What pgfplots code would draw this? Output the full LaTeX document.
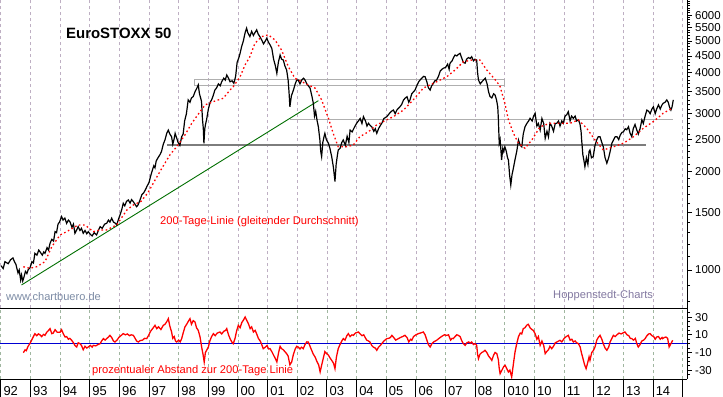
\documentclass[border=0pt]{standalone}
\usepackage{pgfplots}
\pgfplotsset{compat=1.18}
\usepackage{fontspec}
\setmainfont{Liberation Sans}
\definecolor{gridmain}{RGB}{190,175,195}
\definecolor{gridlow}{RGB}{160,182,160}
\definecolor{wmark}{RGB}{125,140,165}
\definecolor{hmark}{RGB}{130,120,160}
\definecolor{hline}{RGB}{125,125,125}
\definecolor{boxline}{RGB}{175,175,175}
\definecolor{trend}{RGB}{0,110,0}
\definecolor{chartred}{RGB}{255,0,0}
\definecolor{zeroblue}{RGB}{0,0,210}
\begin{document}
\begin{tikzpicture}[x=1bp,y=1bp]
\path[use as bounding box] (0bp,0bp) rectangle (723bp,397bp);
% ---------------- main panel ----------------
\begin{axis}[
  at={(0bp,88.7bp)}, anchor=south west, scale only axis,
  width=687bp, height=308.3bp,
  xmin=1991.973, xmax=2015.143,
  ymode=log, ymin=764, ymax=6671,
  axis x line*=bottom, axis y line*=right,
  axis line style={-, black, line width=1bp},
  xtick={1992,...,2015}, xticklabels={}, xtick style={draw=none},
  xmajorgrids, grid style={gridmain, dashed, line width=0.7bp},
  ytick={1000,1500,2000,2500,3000,3500,4000,4500,5000,5500,6000},
  yticklabels={1000,1500,2000,2500,3000,3500,4000,4500,5000,5500,6000},
  minor ytick={800,900,1100,1200,1300,1400,1600,1700,1800,1900,2100,2200,2300,2400,2600,2700,2800,2900,3100,3200,3300,3400,3600,3700,3800,3900,4100,4200,4300,4400,4600,4700,4800,4900,5100,5200,5300,5400,5600,5700,5800,5900,6100,6200,6300,6400,6500,6600},
  tick align=outside, major tick length=5bp, minor tick length=3bp,
  ytick style={black, line width=0.8bp},
  yticklabel style={font=\fontsize{11.5}{12}\selectfont, anchor=west, inner sep=0pt, xshift=3bp},
]
% support / resistance lines
\addplot[hline, line width=2.6bp] coordinates {(1997.61,2408) (2013.75,2408)};
\addplot[boxline, line width=0.8bp] coordinates {(1998.53,3672) (2009.00,3672) (2009.00,3820) (1998.53,3820) (1998.53,3672)};
\addplot[boxline, line width=0.8bp] coordinates {(2001.76,2884) (2014.67,2884)};
% trend line
\addplot[trend, line width=0.9bp] coordinates {(1992.70,900) (2002.71,3287)};
% index
\addplot[black, line width=1.2bp] coordinates {
(1992.01,1030) (1992.08,1010) (1992.14,1060) (1992.25,1045) (1992.33,1075) (1992.41,1088) (1992.46,1060) (1992.51,1040) (1992.58,979) (1992.62,1000) (1992.67,932) (1992.70,965) (1992.74,925) (1992.78,950) (1992.83,990) (1992.88,975) (1992.93,1005) (1992.98,1012)
(1993.05,1060) (1993.10,1050) (1993.15,1124) (1993.22,1110) (1993.28,1150) (1993.32,1137) (1993.40,1110) (1993.45,1135) (1993.49,1124) (1993.56,1170) (1993.61,1150) (1993.66,1206) (1993.72,1240) (1993.78,1225) (1993.83,1309) (1993.88,1300) (1993.93,1380) (1993.98,1400)
(1994.05,1455) (1994.10,1420) (1994.16,1440) (1994.22,1388) (1994.28,1420) (1994.33,1405) (1994.40,1350) (1994.45,1380) (1994.50,1294) (1994.55,1320) (1994.61,1356) (1994.67,1320) (1994.72,1340) (1994.78,1294) (1994.84,1320) (1994.90,1290) (1994.95,1309)
(1995.02,1285) (1995.08,1270) (1995.15,1300) (1995.23,1279) (1995.29,1320) (1995.35,1356) (1995.42,1340) (1995.50,1380) (1995.57,1388) (1995.63,1420) (1995.68,1400) (1995.74,1439) (1995.80,1400) (1995.86,1390) (1995.91,1372) (1995.96,1421)
(1996.03,1480) (1996.08,1530) (1996.13,1598) (1996.18,1570) (1996.24,1620) (1996.30,1636) (1996.36,1600) (1996.41,1640) (1996.46,1620) (1996.52,1590) (1996.58,1560) (1996.63,1580) (1996.70,1640) (1996.76,1700) (1996.82,1720) (1996.88,1760) (1996.93,1800)
(1997.00,1850) (1997.05,1930) (1997.10,2000) (1997.16,2080) (1997.20,2050) (1997.24,2150) (1997.30,2200) (1997.37,2250) (1997.42,2300) (1997.48,2420) (1997.54,2500) (1997.60,2620) (1997.65,2673) (1997.70,2600) (1997.76,2552) (1997.80,2420) (1997.84,2500) (1997.88,2612) (1997.93,2530) (1997.98,2450)
(1998.04,2400) (1998.10,2552) (1998.15,2600) (1998.20,2850) (1998.26,3000) (1998.32,3305) (1998.38,3250) (1998.43,3350) (1998.49,3384) (1998.55,3500) (1998.62,3600) (1998.66,3672) (1998.70,3450) (1998.74,3350) (1998.77,3266) (1998.80,2900) (1998.83,2700) (1998.85,2437) (1998.88,2700) (1998.91,2800) (1998.94,2872)
(1999.00,3100) (1999.06,3250) (1999.11,3305) (1999.16,3400) (1999.22,3542) (1999.28,3600) (1999.34,3700) (1999.40,3650) (1999.45,3756) (1999.52,3850) (1999.57,3800) (1999.62,3937) (1999.68,3850) (1999.73,3756) (1999.80,3780) (1999.86,3714) (1999.92,3900) (1999.97,4300)
(2000.03,4450) (2000.07,4585) (2000.12,4800) (2000.18,5000) (2000.24,5300) (2000.29,5472) (2000.33,5300) (2000.40,5157) (2000.46,5350) (2000.52,5200) (2000.57,5300) (2000.63,5409) (2000.68,5250) (2000.74,5150) (2000.80,5035) (2000.86,4900) (2000.92,5000) (2000.97,5099)
(2001.03,4950) (2001.09,4850) (2001.14,4749) (2001.20,4400) (2001.26,4200) (2001.31,3985) (2001.36,4300) (2001.42,4531) (2001.47,4400) (2001.53,4372) (2001.58,4200) (2001.64,4077) (2001.69,3800) (2001.72,3500) (2001.75,3149) (2001.80,3400) (2001.87,3542) (2001.93,3700) (2001.98,3800)
(2002.03,3801) (2002.09,3700) (2002.15,3800) (2002.21,3850) (2002.26,3801) (2002.32,3700) (2002.37,3650) (2002.43,3591) (2002.49,3400) (2002.54,3228) (2002.58,2950) (2002.62,3050) (2002.67,2850) (2002.71,2736) (2002.76,2500) (2002.79,2300) (2002.82,2218) (2002.86,2450) (2002.90,2550) (2002.93,2612) (2002.98,2500)
(2003.05,2436) (2003.10,2350) (2003.16,2218) (2003.22,2050) (2003.27,1862) (2003.31,2100) (2003.34,2200) (2003.38,2324) (2003.44,2350) (2003.50,2450) (2003.55,2494) (2003.62,2400) (2003.68,2560) (2003.74,2450) (2003.78,2673) (2003.85,2640) (2003.92,2720)
(2004.00,2804) (2004.06,2850) (2004.12,2900) (2004.18,2800) (2004.23,2938) (2004.30,2850) (2004.35,2750) (2004.40,2804) (2004.46,2760) (2004.51,2736) (2004.58,2650) (2004.63,2700) (2004.68,2612) (2004.74,2700) (2004.80,2760) (2004.85,2804) (2004.92,2900)
(2005.02,2938) (2005.10,3000) (2005.17,3050) (2005.24,3077) (2005.30,3000) (2005.36,3080) (2005.46,3149) (2005.52,3200) (2005.58,3300) (2005.63,3342) (2005.70,3380) (2005.76,3250) (2005.80,3305) (2005.86,3450) (2005.92,3500) (2005.97,3542)
(2006.03,3650) (2006.09,3750) (2006.14,3801) (2006.20,3850) (2006.26,3900) (2006.31,3890) (2006.37,3750) (2006.42,3600) (2006.48,3542) (2006.53,3650) (2006.58,3700) (2006.64,3780) (2006.70,3801) (2006.76,3900) (2006.82,4050) (2006.88,4100) (2006.93,4131)
(2007.00,4150) (2007.07,4250) (2007.12,4100) (2007.15,4278) (2007.22,4350) (2007.27,4450) (2007.32,4531) (2007.38,4500) (2007.43,4550) (2007.49,4585) (2007.54,4450) (2007.60,4300) (2007.66,4278) (2007.71,4400) (2007.77,4450) (2007.83,4420) (2007.88,4477) (2007.94,4350) (2007.99,4400)
(2008.05,4372) (2008.08,4000) (2008.11,3801) (2008.17,3700) (2008.22,3750) (2008.28,3801) (2008.34,3850) (2008.40,3700) (2008.45,3500) (2008.50,3384) (2008.56,3350) (2008.62,3450) (2008.67,3421) (2008.72,3300) (2008.76,3149) (2008.78,2900) (2008.81,2437) (2008.84,2500) (2008.87,2300) (2008.89,2167) (2008.93,2350) (2008.96,2300)
(2009.00,2377) (2009.05,2300) (2009.09,2200) (2009.12,2167) (2009.16,1950) (2009.20,1817) (2009.24,1950) (2009.29,2050) (2009.34,2167) (2009.40,2300) (2009.46,2494) (2009.52,2400) (2009.57,2377) (2009.62,2600) (2009.68,2736) (2009.74,2800) (2009.80,2850) (2009.85,2904) (2009.92,2850) (2009.97,2950)
(2010.02,3009) (2010.08,2750) (2010.13,2800) (2010.19,2673) (2010.25,2900) (2010.31,2800) (2010.36,2522) (2010.42,2650) (2010.47,2550) (2010.52,2804) (2010.58,2750) (2010.64,2650) (2010.70,2800) (2010.75,2804) (2010.81,2850) (2010.86,2750) (2010.92,2850) (2010.97,2804)
(2011.03,2950) (2011.09,2980) (2011.14,3042) (2011.20,2850) (2011.25,2950) (2011.31,2904) (2011.37,2950) (2011.42,2850) (2011.48,2872) (2011.53,2800) (2011.57,2650) (2011.59,2494) (2011.63,2250) (2011.67,2150) (2011.70,2066) (2011.75,2200) (2011.80,2100) (2011.84,2300) (2011.87,2324) (2011.92,2200) (2011.98,2218)
(2012.04,2400) (2012.10,2500) (2012.15,2552) (2012.21,2550) (2012.27,2450) (2012.32,2377) (2012.38,2200) (2012.44,2118) (2012.50,2200) (2012.55,2300) (2012.61,2437) (2012.67,2500) (2012.72,2550) (2012.78,2552) (2012.84,2500) (2012.89,2580) (2012.95,2630)
(2013.00,2642) (2013.06,2700) (2013.11,2680) (2013.17,2736) (2013.22,2620) (2013.28,2552) (2013.33,2700) (2013.39,2780) (2013.45,2673) (2013.50,2600) (2013.56,2700) (2013.62,2872) (2013.67,2800) (2013.73,2950) (2013.79,3077) (2013.85,3050) (2013.90,3000) (2013.96,3100)
(2014.01,3149) (2014.07,3000) (2014.12,3100) (2014.18,3191) (2014.24,3100) (2014.29,3180) (2014.34,3228) (2014.40,3250) (2014.46,3305) (2014.51,3250) (2014.55,3150) (2014.60,3077) (2014.64,3150) (2014.68,3305)
};
% 200-day moving average
\addplot[chartred, line width=1.3bp, dash pattern=on 1.6bp off 2.6bp] coordinates {
(1992.76,1023) (1992.98,1012) (1993.21,1023) (1993.49,1060) (1993.72,1178) (1994.00,1279) (1994.22,1309) (1994.61,1372) (1994.84,1372) (1995.12,1309) (1995.35,1325) (1995.57,1325) (1995.91,1372) (1996.25,1524) (1996.47,1579) (1996.73,1620) (1996.96,1720) (1997.20,1880) (1997.44,2050) (1997.71,2250) (1997.93,2377) (1998.21,2583) (1998.44,2804) (1998.72,3042) (1998.89,3191) (1999.17,3266) (1999.50,3342) (1999.73,3542) (1999.84,3628) (2000.07,3890) (2000.24,4229) (2000.40,4477) (2000.57,4920) (2000.80,5157) (2001.02,5221) (2001.25,5035) (2001.47,4689) (2001.70,4170) (2001.92,3848) (2002.15,3756) (2002.37,3672) (2002.60,3591) (2002.82,3305) (2003.05,2904) (2003.21,2612) (2003.38,2377) (2003.67,2377) (2003.89,2408) (2004.11,2552) (2004.40,2642) (2004.68,2773) (2004.90,2838) (2005.24,2938) (2005.58,3077) (2005.91,3305) (2006.25,3591) (2006.70,3756) (2007.04,3890) (2007.32,4077) (2007.60,4320) (2007.88,4372) (2008.16,4372) (2008.39,4077) (2008.73,3756) (2008.84,3628) (2009.00,3228) (2009.12,2872) (2009.29,2612) (2009.46,2437) (2009.68,2352) (2009.91,2494) (2010.19,2736) (2010.52,2804) (2010.86,2804) (2011.20,2804) (2011.48,2872) (2011.76,2708) (2012.04,2494) (2012.32,2324) (2012.66,2377) (2013.00,2437) (2013.34,2552) (2013.67,2708) (2014.01,2838) (2014.34,3009) (2014.63,3112)
};
\end{axis}
% ---------------- lower panel ----------------
\begin{axis}[
  at={(0bp,18bp)}, anchor=south west, scale only axis,
  width=687bp, height=70.7bp,
  xmin=1991.973, xmax=2015.143,
  ymin=-40, ymax=40,
  axis x line*=bottom, axis y line*=right,
  axis line style={-, black, line width=1bp},
  xtick={1992,...,2015}, xticklabels={}, xtick style={draw=none},
  xmajorgrids, grid style={gridlow, dashed, line width=0.7bp},
  ytick={-30,-10,10,30}, yticklabels={-30,-10,10,30},
  minor ytick={-35,-25,-20,-15,-5,0,5,15,20,25,35},
  tick align=outside, major tick length=5bp, minor tick length=3bp,
  ytick style={black, line width=0.8bp},
  yticklabel style={font=\fontsize{11.5}{12}\selectfont, anchor=west, inner sep=0pt, xshift=3bp},
]
\addplot[zeroblue, line width=1.3bp] coordinates {(1991.973,0) (2015.143,0)};
\addplot[chartred, line width=1.3bp] coordinates {
(1992.76,-10.2) (1992.82,-7) (1992.86,-8) (1992.92,-3) (1992.98,0) (1993.04,4) (1993.10,8) (1993.15,11.3) (1993.21,9) (1993.27,11) (1993.32,10) (1993.38,8) (1993.44,10.5) (1993.49,9.4) (1993.55,13) (1993.61,15) (1993.66,17) (1993.72,11.3) (1993.77,12) (1993.83,15.8) (1993.90,13) (1994.00,13)
(1994.05,15.8) (1994.11,11) (1994.17,7.5) (1994.22,8) (1994.28,5) (1994.33,6) (1994.39,3.8) (1994.45,1) (1994.50,-2) (1994.56,-3.8) (1994.61,1) (1994.67,0) (1994.72,-2) (1994.78,-6.8) (1994.84,-3) (1994.90,-5) (1994.95,-3.8)
(1995.02,-2) (1995.08,-4) (1995.12,-1.9) (1995.20,-2.5) (1995.28,-1) (1995.35,0) (1995.40,3) (1995.46,5.7) (1995.52,4) (1995.58,6) (1995.63,7.5) (1995.68,9.4) (1995.74,7) (1995.80,3) (1995.85,1.9) (1995.92,4) (1995.98,7)
(1996.05,9) (1996.13,11.3) (1996.20,10) (1996.27,11) (1996.34,9) (1996.40,10) (1996.47,9.4) (1996.53,6) (1996.58,3) (1996.64,1.9) (1996.70,3.5) (1996.78,4) (1996.85,6) (1996.92,5.7) (1996.98,9)
(1997.05,14) (1997.12,17) (1997.20,20.7) (1997.26,17) (1997.32,19) (1997.40,16) (1997.48,20.7) (1997.54,22) (1997.60,25) (1997.65,28.3) (1997.70,20) (1997.76,13.2) (1997.80,6) (1997.85,8) (1997.89,3) (1997.93,1.9)
(1998.00,4) (1998.05,2) (1998.10,5.7) (1998.15,12) (1998.21,18.9) (1998.27,22) (1998.32,25) (1998.38,28.3) (1998.43,22) (1998.49,26) (1998.55,24.5) (1998.60,18) (1998.66,15) (1998.72,7.5) (1998.78,-5) (1998.82,-12) (1998.86,-20.7) (1998.90,-10) (1998.95,-7)
(1999.00,-3.8) (1999.05,3) (1999.11,8) (1999.17,11.3) (1999.23,9) (1999.30,12) (1999.39,13.2) (1999.45,11) (1999.52,14) (1999.58,15) (1999.62,17) (1999.68,10) (1999.74,5) (1999.79,2) (1999.84,0) (1999.90,6) (1999.95,14)
(2000.01,20.7) (2000.07,18) (2000.13,24) (2000.19,27) (2000.24,30.2) (2000.30,26) (2000.35,22.6) (2000.41,17) (2000.46,19) (2000.52,13.2) (2000.58,15) (2000.63,11) (2000.69,5.7) (2000.75,3) (2000.80,-1) (2000.85,-5.7) (2000.92,-4) (2000.98,-2)
(2001.03,-6) (2001.08,-5.7) (2001.14,-9) (2001.20,-13) (2001.26,-17) (2001.31,-20.7) (2001.37,-10) (2001.42,-3) (2001.47,-5.7) (2001.53,-7) (2001.58,-9) (2001.64,-11.3) (2001.69,-14) (2001.75,-24) (2001.81,-20.7) (2001.87,-12) (2001.93,-6) (2001.98,-3)
(2002.03,-3.8) (2002.09,-6) (2002.14,-4) (2002.20,-5.7) (2002.26,-1) (2002.32,2) (2002.37,1.9) (2002.43,-3) (2002.49,-8) (2002.54,-12) (2002.60,-15.1) (2002.66,-20) (2002.72,-24) (2002.77,-32) (2002.82,-24.5) (2002.88,-16) (2002.93,-9) (2002.99,-11.3)
(2003.05,-13) (2003.10,-16) (2003.16,-18.9) (2003.22,-22) (2003.27,-28.3) (2003.32,-15) (2003.38,-5.7) (2003.44,-1) (2003.50,3) (2003.55,5.7) (2003.61,4) (2003.67,9) (2003.72,11.3) (2003.78,8) (2003.84,10) (2003.89,9.4) (2003.96,12)
(2004.06,13.2) (2004.12,11) (2004.18,9) (2004.24,10) (2004.28,7.5) (2004.34,4) (2004.40,3) (2004.45,1.9) (2004.51,-2) (2004.57,-4) (2004.63,-5) (2004.68,-7.5) (2004.74,-4) (2004.80,-2) (2004.85,0) (2004.92,3)
(2005.02,5.7) (2005.08,6) (2005.14,7) (2005.19,9.4) (2005.25,7) (2005.32,4) (2005.41,5.7) (2005.48,7) (2005.55,8) (2005.63,9.4) (2005.70,7) (2005.76,2) (2005.82,5) (2005.86,3.8) (2005.92,8)
(2006.00,10) (2006.08,11.3) (2006.15,12) (2006.25,13.2) (2006.31,10) (2006.37,4) (2006.42,-1) (2006.48,-3.8) (2006.54,0) (2006.60,2) (2006.70,3.8) (2006.78,6) (2006.86,8) (2006.96,10)
(2007.04,9.4) (2007.10,10) (2007.17,4) (2007.22,6) (2007.26,5.7) (2007.32,8) (2007.38,10) (2007.43,9.4) (2007.49,8) (2007.55,3) (2007.60,0) (2007.66,-1.9) (2007.72,1) (2007.78,2) (2007.83,0.5) (2007.88,1.9) (2007.94,-1)
(2008.00,0) (2008.05,-1.9) (2008.08,-12) (2008.11,-17) (2008.16,-12) (2008.22,-10) (2008.28,-9) (2008.33,-7.5) (2008.39,-10) (2008.45,-14) (2008.50,-16) (2008.56,-18.9) (2008.62,-13) (2008.67,-10) (2008.73,-11.3) (2008.78,-18) (2008.81,-28) (2008.84,-33.9) (2008.90,-30) (2008.96,-26)
(2009.01,-24.5) (2009.06,-28) (2009.12,-32) (2009.17,-30) (2009.23,-37.7) (2009.28,-25) (2009.34,-10) (2009.40,0) (2009.46,8) (2009.52,12) (2009.57,11) (2009.62,17) (2009.68,18) (2009.74,21) (2009.79,21.9) (2009.85,18) (2009.91,16) (2009.96,15)
(2010.02,11.3) (2010.08,5) (2010.13,8) (2010.19,-1.9) (2010.25,3) (2010.31,-2) (2010.36,-11.3) (2010.41,-9) (2010.47,-7) (2010.52,-3) (2010.58,-5.7) (2010.64,-3) (2010.70,1) (2010.76,2) (2010.86,3.8) (2010.92,2)
(2011.00,6) (2011.07,8) (2011.14,9.4) (2011.20,4) (2011.26,5) (2011.31,1.9) (2011.37,3) (2011.42,1) (2011.48,0) (2011.54,-3.8) (2011.58,-10) (2011.62,-15) (2011.65,-18.9) (2011.69,-24) (2011.74,-28.3) (2011.79,-22) (2011.84,-15) (2011.87,-18.9) (2011.93,-10) (2011.98,-8)
(2012.04,-3.8) (2012.10,4) (2012.15,7) (2012.21,9.4) (2012.27,5) (2012.33,-1) (2012.38,-5) (2012.44,-7.5) (2012.50,-4) (2012.55,2) (2012.61,6) (2012.66,9.4) (2012.72,8) (2012.78,10) (2012.85,12) (2012.92,11)
(2013.05,13.2) (2013.12,10) (2013.18,9) (2013.23,6) (2013.28,5.7) (2013.34,4) (2013.40,6) (2013.45,0) (2013.50,-3.8) (2013.56,-1) (2013.62,3) (2013.68,4) (2013.73,5.7) (2013.79,9) (2013.85,11) (2013.90,11.3) (2013.96,9)
(2014.02,8) (2014.07,5) (2014.12,7.5) (2014.18,8) (2014.24,5) (2014.30,7) (2014.32,5.7) (2014.38,7) (2014.43,7.5) (2014.49,6) (2014.54,-3.8) (2014.60,0) (2014.66,3.8)
};
\end{axis}
% ---------------- year strip ----------------
\begin{axis}[
  at={(0bp,18bp)}, anchor=south west, scale only axis,
  width=687bp, height=70.7bp,
  xmin=1991.973, xmax=2015.143,
  ymin=-40, ymax=40,
  axis x line*=bottom, axis y line=none,
  axis line style={-, black, line width=1bp},
  xtick={1992,...,2015},
  xticklabels={92,93,94,95,96,97,98,99,00,01,02,03,04,05,06,07,08,010,10,11,12,13,14,{}},
  tick align=outside, major tick length=18bp,
  xtick style={black, line width=1bp},
  xticklabel style={font=\fontsize{13}{14}\selectfont, anchor=north west, inner sep=0pt, xshift=2.5bp, yshift=10.5bp},
]
\end{axis}
% ---------------- texts ----------------
\node[anchor=west, inner sep=0pt, font=\bfseries\fontsize{15}{18}\selectfont] at (66bp,364bp) {EuroSTOXX 50};
\node[anchor=west, inner sep=0pt, text=chartred, font=\fontsize{11.2}{13}\selectfont] at (160bp,175bp) {200-Tage-Linie (gleitender Durchschnitt)};
\node[anchor=west, inner sep=0pt, text=wmark, font=\fontsize{11.1}{13}\selectfont] at (6bp,100.3bp) {www.chartbuero.de};
\node[anchor=west, inner sep=0pt, text=hmark, font=\fontsize{11.2}{13}\selectfont] at (553bp,101bp) {Hoppenstedt-Charts};
\node[anchor=west, inner sep=0pt, text=chartred, font=\fontsize{11.2}{13}\selectfont] at (92bp,26.3bp) {prozentualer Abstand zur 200-Tage Linie};
\end{tikzpicture}
\end{document}
